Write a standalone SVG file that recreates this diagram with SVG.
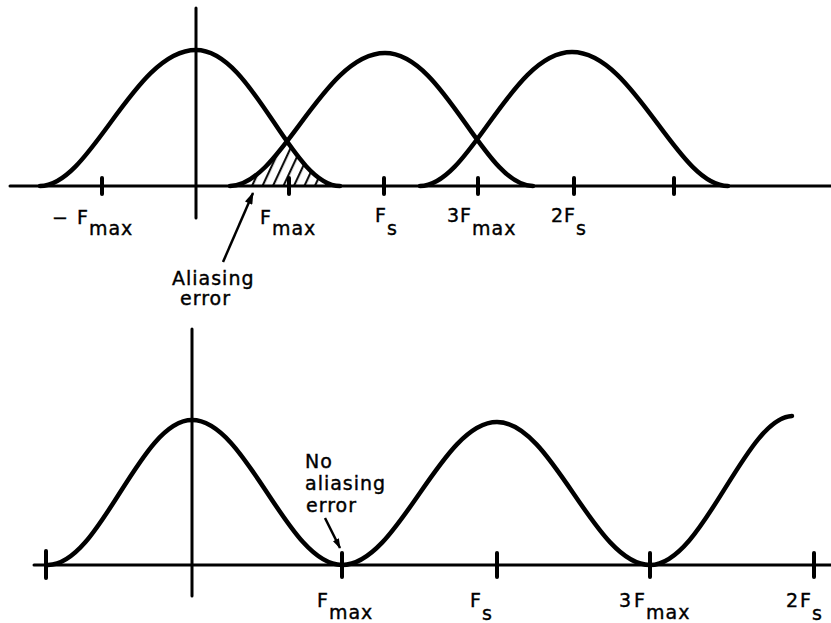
<svg xmlns="http://www.w3.org/2000/svg" width="831" height="623" viewBox="0 0 831 623">
<style>
.axis{stroke:#000;stroke-width:3;fill:none;stroke-linecap:round}
.tick{stroke:#000;stroke-width:4;fill:none;stroke-linecap:round}
.curve{stroke:#000;stroke-width:4.5;fill:none;stroke-linecap:round;stroke-linejoin:round}
.arrow{stroke:#000;stroke-width:2.5;fill:none}
.lbl{font-family:"DejaVu Sans","Liberation Sans",sans-serif;font-size:19px;fill:#000;stroke:#000;stroke-width:0.4px;letter-spacing:1px}
</style>
<defs>
<marker id="ah" viewBox="0 0 12 8" refX="11" refY="4" markerWidth="13" markerHeight="8" markerUnits="userSpaceOnUse" orient="auto">
<path d="M0,0 L12,4 L0,8 z" fill="#000"/>
</marker>
<marker id="ah2" viewBox="0 0 12 8" refX="11" refY="4" markerWidth="10" markerHeight="7" markerUnits="userSpaceOnUse" orient="auto">
<path d="M0,0 L12,4 L0,8 z" fill="#000"/>
</marker>
<pattern id="hatch" width="9.5" height="10" patternUnits="userSpaceOnUse" patternTransform="rotate(25)">
<line x1="3" y1="-1" x2="3" y2="11" stroke="#000" stroke-width="2"/>
</pattern>
<clipPath id="underC1"><path d="M40,186 C91,186 134,50 196,50 C253,50 291,186 340,186 Z"/></clipPath>
<clipPath id="underC2"><path d="M230,186 C281,186 323,53 385,53 C444,53 484,186 533,186 Z"/></clipPath>
</defs>

<g id="top-plot">
<g id="top-axes">
<line class="axis" x1="10" y1="186" x2="831" y2="186"/>
<line class="axis" x1="196" y1="8" x2="196" y2="218"/>
</g>
<g id="top-ticks">
<line class="tick" x1="102" y1="178" x2="102" y2="194"/>
<line class="tick" x1="289" y1="178" x2="289" y2="194"/>
<line class="tick" x1="384" y1="178" x2="384" y2="194"/>
<line class="tick" x1="478" y1="178" x2="478" y2="194"/>
<line class="tick" x1="574" y1="178" x2="574" y2="194"/>
<line class="tick" x1="674" y1="178" x2="674" y2="194"/>
</g>
<g id="aliasing-hatch" clip-path="url(#underC1)">
<rect x="225" y="100" width="130" height="88" fill="url(#hatch)" clip-path="url(#underC2)"/>
</g>
<g id="spectrum-0"><path class="curve" d="M40,186 C91,186 134,50 196,50 C253,50 291,186 340,186"/></g>
<g id="spectrum-fs"><path class="curve" d="M230,186 C281,186 323,53 385,53 C444,53 484,186 533,186"/></g>
<g id="spectrum-2fs"><path class="curve" d="M420,186 C470,186 511,52 572,52 C634,52 677,186 728,186"/></g>
</g>

<g id="top-labels">
<g id="lbl-neg-fmax"><text class="lbl" x="52" y="224">−<tspan x="77">F</tspan><tspan dy="11">max</tspan></text></g>
<g id="lbl-fmax-top"><text class="lbl" x="260" y="224">F<tspan dy="11">max</tspan></text></g>
<g id="lbl-fs-top"><text class="lbl" x="375" y="222">F<tspan dy="13">s</tspan></text></g>
<g id="lbl-3fmax-top"><text class="lbl" x="447" y="222">3F<tspan dy="13">max</tspan></text></g>
<g id="lbl-2fs-top"><text class="lbl" x="551" y="222">2F<tspan dy="13">s</tspan></text></g>
<g id="lbl-aliasing"><text class="lbl" x="172" y="285">Aliasing<tspan x="180" y="305">error</tspan></text></g>
</g>

<g id="bottom-plot">
<g id="bottom-axes">
<line class="axis" x1="34" y1="565" x2="831" y2="565"/>
<line class="axis" x1="192" y1="329" x2="192" y2="596"/>
</g>
<g id="bottom-ticks">
<line class="tick" x1="46" y1="551" x2="46" y2="578"/>
<line class="tick" x1="342" y1="553" x2="342" y2="577"/>
<line class="tick" x1="497" y1="553" x2="497" y2="577"/>
<line class="tick" x1="650" y1="553" x2="650" y2="577"/>
<line class="tick" x1="814" y1="553" x2="814" y2="577"/>
</g>
<g id="bottom-spectrum"><path class="curve" d="M48,565 C100.4,565 139.6,420 192,420 C246.6,420 287.4,565 342,565 C398.4,565 440.6,422 497,422 C552.7,422 594.3,565 650,565 C703,565 745,418 792,416"/></g>
</g>

<g id="bottom-labels">
<g id="lbl-noalias"><text class="lbl" x="305" y="468">No<tspan x="305" y="490">aliasing</tspan><tspan x="306" y="512">error</tspan></text></g>
<g id="lbl-fmax-bot"><text class="lbl" x="317" y="607">F<tspan dy="12">max</tspan></text></g>
<g id="lbl-fs-bot"><text class="lbl" x="470" y="607">F<tspan dy="13">s</tspan></text></g>
<g id="lbl-3fmax-bot"><text class="lbl" x="619" y="607">3<tspan dx="2">F</tspan><tspan dy="12">max</tspan></text></g>
<g id="lbl-2fs-bot"><text class="lbl" x="786" y="607">2<tspan dx="1">F</tspan><tspan dy="13">s</tspan></text></g>
</g>

<g id="connectors">
<line class="arrow" x1="223" y1="262" x2="253" y2="193" marker-end="url(#ah)"/>
<line class="arrow" x1="325" y1="518" x2="340" y2="548" marker-end="url(#ah2)"/>
</g>
</svg>
